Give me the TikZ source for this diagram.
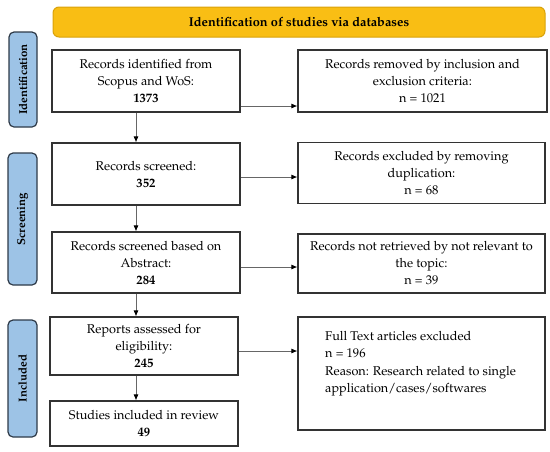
\documentclass[tikz,border=0pt]{standalone}
\usepackage[T1]{fontenc}
\usepackage{mathpazo}
\usetikzlibrary{arrows.meta}
\definecolor{banfill}{HTML}{F9BE14}
\definecolor{banline}{HTML}{D9A20A}
\definecolor{sidefill}{HTML}{9DC3E6}
\definecolor{sideline}{HTML}{2E3A48}
\definecolor{boxline}{HTML}{333333}
\definecolor{arrline}{HTML}{666666}
\tikzset{
  stepbox/.style={draw=boxline, line width=1.2pt, fill=white, align=center,
    inner sep=0pt, font=\fontsize{12.7}{17}\selectfont},
  sidebox/.style={draw=sideline, line width=1.2pt, fill=sidefill, rounded corners=5pt,
    inner sep=0pt},
  sidetext/.style={rotate=90, font=\fontsize{11.5}{14}\selectfont\bfseries},
  arr/.style={draw=arrline, line width=0.8pt, -{Latex[length=6pt,width=5pt,color=black]}}
}
\begin{document}
\begin{tikzpicture}[x=1pt,y=-1pt]
\useasboundingbox (0,0) rectangle (550,451);
% banner
\node[draw=banline, line width=1pt, fill=banfill, rounded corners=6pt,
  minimum width=492pt, minimum height=30pt, inner sep=0pt,
  font=\fontsize{12.8}{14}\selectfont\bfseries] (ban) at (299,22) {Identification of studies via databases};
% side labels
\node[sidebox, minimum width=28pt, minimum height=95pt] (s1) at (23,79.5) {};
\node[sidetext] (s1t) at (s1.center) {Identification};
\node[sidebox, minimum width=29pt, minimum height=132pt] (s2) at (22.5,219) {};
\node[sidetext] (s2t) at (s2.center) {Screening};
\node[sidebox, minimum width=29pt, minimum height=117pt] (s3) at (22.5,378.5) {};
\node[sidetext] (s3t) at (s3.center) {Included};
% left column
\node[stepbox, minimum width=188pt, minimum height=62pt] (b1) at (146,81)
  {Records identified from\\Scopus and WoS:\\\textbf{1373}};
\node[stepbox, minimum width=188pt, minimum height=62pt] (b2) at (146,174)
  {Records screened:\\\textbf{352}};
\node[stepbox, minimum width=188pt, minimum height=61pt] (b3) at (146,262.5)
  {Records screened based on\\Abstract:\\\textbf{284}};
\node[stepbox, minimum width=188pt, minimum height=58pt] (b4) at (144,346)
  {Reports assessed for\\eligibility:\\\textbf{245}};
\node[stepbox, minimum width=188pt, minimum height=45pt] (b5) at (144,423.5)
  {Studies included in review\\\textbf{49}};
% right column
\node[stepbox, minimum width=249pt, minimum height=62pt] (r1) at (422.5,81)
  {Records removed by inclusion and\\exclusion criteria:\\n = 1021};
\node[stepbox, minimum width=247pt, minimum height=61pt] (r2) at (421.5,173)
  {Records excluded by removing\\duplication:\\n = 68};
\node[stepbox, minimum width=247pt, minimum height=59pt] (r3) at (421.5,263.5)
  {Records not retrieved by not relevant to\\the topic:\\n = 39};
\node[stepbox, minimum width=247pt, minimum height=113pt] (r4) at (421.5,373.5) {};
\node[align=left, anchor=north west, inner sep=0pt, font=\fontsize{12.7}{17.5}\selectfont] (r4t) at (325,331)
  {Full Text articles excluded\\n = 196\\Reason: Research related to single\\application/cases/softwares};
% arrows
\coordinate (ax) at (136,0);
\draw[arr] (b1.south -| ax) -- (b2.north -| ax);
\draw[arr] (b2.south -| ax) -- (b3.north -| ax);
\draw[arr] (b3.south -| ax) -- (b4.north -| ax);
\draw[arr] (b4.south -| ax) -- (b5.north -| ax);
\coordinate (y1) at (0,106);
\coordinate (y2) at (0,177);
\coordinate (y3) at (0,267);
\coordinate (y4) at (0,351);
\draw[arr] (b1.east |- y1) -- (r1.west |- y1);
\draw[arr] (b2.east |- y2) -- (r2.west |- y2);
\draw[arr] (b3.east |- y3) -- (r3.west |- y3);
\draw[arr] (b4.east |- y4) -- (r4.west |- y4);
\end{tikzpicture}
\end{document}
